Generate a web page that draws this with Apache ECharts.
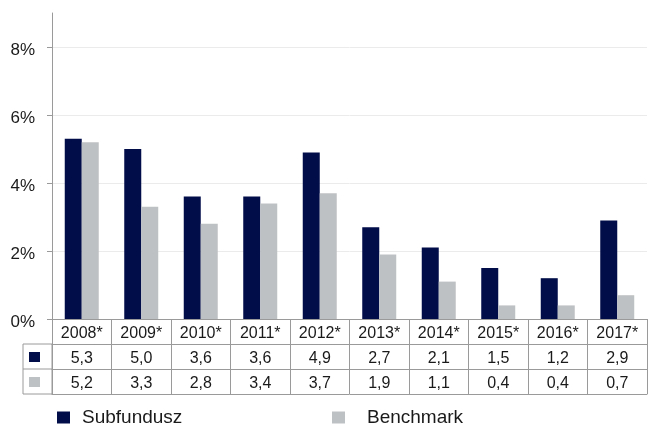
<!DOCTYPE html>
<html>
<head>
<meta charset="utf-8">
<script src="https://cdn.jsdelivr.net/npm/echarts@6/dist/echarts.min.js"></script>
<style>
html,body{margin:0;padding:0;background:#fff;}
#chart{width:648px;height:427px;}
</style>
</head>
<body>
<div id="chart"></div>
<script>
// ---- data ----
const years = ['2008*','2009*','2010*','2011*','2012*','2013*','2014*','2015*','2016*','2017*'];
const subfundusz = [5.3, 5.0, 3.6, 3.6, 4.9, 2.7, 2.1, 1.5, 1.2, 2.9];
const benchmark = [5.2, 3.3, 2.8, 3.4, 3.7, 1.9, 1.1, 0.4, 0.4, 0.7];
const yTicks = [0, 2, 4, 6, 8];
const seriesNames = ['Subfundusz', 'Benchmark'];

// ---- style ----
const DARK = '#000d48';
const GRAY = '#bec1c3';
const LINE = '#9a9a9a';
const TEXT = '#1a1a1a';
const FONT = 'Liberation Sans, Arial, sans-serif';
const fmt = v => v.toFixed(1).replace('.', ',');

const gridLeft = 52, gridTop = 13, gridBottomY = 319, rowH = 25, keyLeft = 23;

const chart = echarts.init(document.getElementById('chart'));

function rowAxis(data, offset, showLabel) {
  return {
    type: 'category', gridIndex: 0, position: 'bottom', offset: offset,
    data: data,
    axisLine: { show: true, lineStyle: { color: LINE, width: 1 } },
    axisTick: { show: false },
    axisLabel: { show: showLabel, fontSize: 16, color: TEXT, fontFamily: FONT, margin: 7 },
    splitLine: { show: false }
  };
}

const option = {
  animation: false,
  backgroundColor: '#fff',
  grid: { left: gridLeft, right: 1, top: gridTop, bottom: 427 - gridBottomY, containLabel: false },
  xAxis: [
    {
      type: 'category', gridIndex: 0, position: 'bottom',
      data: years,
      axisLine: { show: true, lineStyle: { color: LINE, width: 1 } },
      axisTick: { show: true, alignWithLabel: false, inside: false, length: rowH * 3, lineStyle: { color: LINE, width: 1 } },
      axisLabel: { fontSize: 16, color: TEXT, fontFamily: FONT, margin: 7 },
      splitLine: { show: false }
    },
    rowAxis(subfundusz.map(fmt), rowH, true),
    rowAxis(benchmark.map(fmt), rowH * 2, true),
    rowAxis(years.map(() => ''), rowH * 3, false)
  ],
  yAxis: {
    type: 'value', min: 0, max: 9,
    axisLine: { show: true, lineStyle: { color: LINE, width: 1 } },
    axisTick: { show: true, length: 5, customValues: yTicks, lineStyle: { color: LINE } },
    axisLabel: {
      customValues: yTicks, formatter: v => '{a|' + v + '%}', margin: 17,
      rich: { a: { fontSize: 17, color: TEXT, fontFamily: FONT, padding: [6, 0, 0, 0] } }
    },
    splitLine: { show: true, lineStyle: { color: '#ebebeb', width: 1 } }
  },
  legend: [
    {
      data: [seriesNames[0]], left: 57, top: 408, padding: 0,
      itemWidth: 13, itemHeight: 12, icon: 'rect',
      textStyle: { fontSize: 19, color: TEXT, fontFamily: FONT, padding: [0, 0, 0, 7] }
    },
    {
      data: [seriesNames[1]], left: 332, top: 408, padding: 0,
      itemWidth: 13, itemHeight: 12, icon: 'rect',
      textStyle: { fontSize: 19, color: TEXT, fontFamily: FONT, padding: [0, 0, 0, 17] }
    }
  ],
  series: [
    {
      name: seriesNames[0], type: 'bar', xAxisIndex: 0, data: subfundusz,
      barWidth: 17, barGap: '0%', itemStyle: { color: DARK }
    },
    {
      name: seriesNames[1], type: 'bar', xAxisIndex: 0, data: benchmark,
      barWidth: 17, barGap: '0%', itemStyle: { color: GRAY }
    }
  ],
  graphic: [
    { type: 'rect', shape: { x: keyLeft, y: gridBottomY + rowH, width: gridLeft - keyLeft, height: rowH * 2 },
      style: { fill: 'none', stroke: LINE, lineWidth: 1 }, silent: true },
    { type: 'line', shape: { x1: keyLeft, y1: gridBottomY + rowH * 2, x2: gridLeft, y2: gridBottomY + rowH * 2 },
      style: { stroke: LINE, lineWidth: 1 }, silent: true },
    { type: 'rect', shape: { x: 29, y: gridBottomY + rowH + 8, width: 11, height: 10 },
      style: { fill: DARK }, silent: true },
    { type: 'rect', shape: { x: 29, y: gridBottomY + rowH * 2 + 8, width: 11, height: 10 },
      style: { fill: GRAY }, silent: true }
  ]
};
chart.setOption(option);
</script>
</body>
</html>
